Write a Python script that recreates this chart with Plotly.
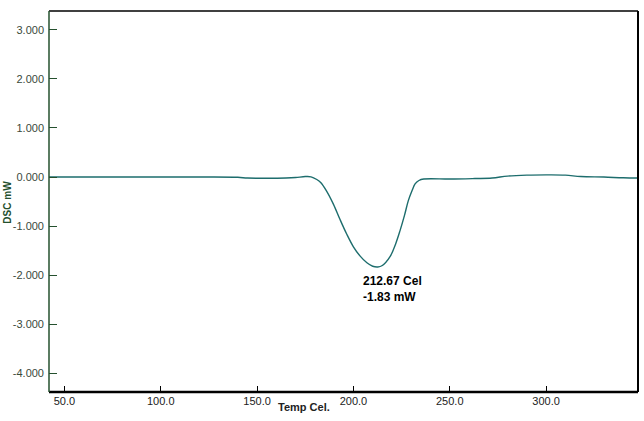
import plotly.graph_objects as go

# Temperature (Cel) and DSC signal (mW)
temp = [42, 60, 80, 100, 120, 140, 145, 155, 165, 170, 175, 178, 181, 183, 186,
        189.6, 193, 196.5, 200, 203.5, 207, 210, 212.67, 215, 219, 222, 224.2,
        226.5, 228.5, 230.5, 232, 234, 236.5, 250, 263, 272, 280, 290, 300,
        310, 318, 330, 340, 347.7]
dsc = [0.0, 0.0, 0.0, 0.0, 0.0, -0.005, -0.02, -0.025, -0.02, -0.01, 0.01, 0.005,
       -0.05, -0.11, -0.28, -0.55, -0.86, -1.16, -1.42, -1.61, -1.745, -1.815,
       -1.83, -1.80, -1.62, -1.35, -1.09, -0.78, -0.48, -0.27, -0.14, -0.07,
       -0.04, -0.04, -0.03, -0.02, 0.02, 0.04, 0.045, 0.04, 0.01, 0.0, -0.015,
       -0.02]

x_ticks = [50, 100, 150, 200, 250, 300]
x_tick_labels = ["50.0", "100.0", "150.0", "200.0", "250.0", "300.0"]
y_ticks = [-4, -3, -2, -1, 0, 1, 2, 3]
y_tick_labels = ["-4.000", "-3.000", "-2.000", "-1.000", "0.000", "1.000", "2.000", "3.000"]

peak_t = 212.67
peak_v = -1.83

green = "#24502e"
label_green = "#3a4a3a"
narrow = "Liberation Sans Narrow, Arial Narrow, Liberation Sans, sans-serif"

fig = go.Figure()
fig.add_trace(go.Scatter(x=temp, y=dsc, mode="lines",
                         line=dict(color="#1d6d6d", width=1.4, shape="spline", smoothing=1),
                         hoverinfo="skip", showlegend=False))

fig.update_layout(
    width=644, height=421,
    margin=dict(l=49, r=6, t=11, b=29),
    paper_bgcolor="white", plot_bgcolor="white",
    showlegend=False,
    xaxis=dict(range=[42, 347.7], tickvals=x_ticks, ticktext=x_tick_labels,
               ticks="inside", ticklen=6, tickcolor="black", tickwidth=1,
               showgrid=False, zeroline=False, showline=False,
               tickfont=dict(family="Liberation Sans, Arial, sans-serif", size=11, color="#222222"),
               ticklabelstandoff=1),
    yaxis=dict(range=[-4.375, 3.38], tickvals=y_ticks, ticktext=y_tick_labels,
               ticks="inside", ticklen=8, tickcolor=green, tickwidth=1,
               showgrid=False, zeroline=False, showline=False,
               tickfont=dict(family="Liberation Sans, Arial, sans-serif", size=11, color=label_green),
               ticklabelstandoff=4),
    shapes=[
        dict(type="line", xref="paper", yref="paper", x0=0, x1=1, y0=1, y1=1,
             line=dict(color="black", width=1.5)),
        dict(type="line", xref="paper", yref="paper", x0=1, x1=1, y0=0, y1=1,
             line=dict(color="black", width=2)),
        dict(type="line", xref="paper", yref="paper", x0=0, x1=1, y0=0, y1=0,
             line=dict(color="black", width=2.5)),
        dict(type="line", xref="paper", yref="paper", x0=0, x1=0, y0=0, y1=1,
             line=dict(color=green, width=1.5)),
    ],
    annotations=[
        dict(x=peak_t, y=peak_v - 0.1, xref="x", yref="y", xshift=-17,
             text="<b>%.2f Cel<br>%.2f mW</b>" % (peak_t, peak_v),
             showarrow=False, xanchor="left", yanchor="top", align="left",
             font=dict(family=narrow, size=12, color="black")),
        dict(x=174.4, y=0, xref="x", yref="paper", yshift=-15,
             text="<b>Temp Cel.</b>", showarrow=False, xanchor="center", yanchor="middle",
             font=dict(family=narrow, size=11, color="#222222")),
        dict(x=0, y=0.497, xref="paper", yref="paper", xshift=-41,
             text="<b>DSC mW</b>", textangle=-90, showarrow=False,
             xanchor="center", yanchor="middle",
             font=dict(family=narrow, size=10, color=green)),
    ],
)

fig.write_html("out.html", config={"displayModeBar": False},
               post_script="document.body.style.margin='0';document.body.style.padding='0';")
